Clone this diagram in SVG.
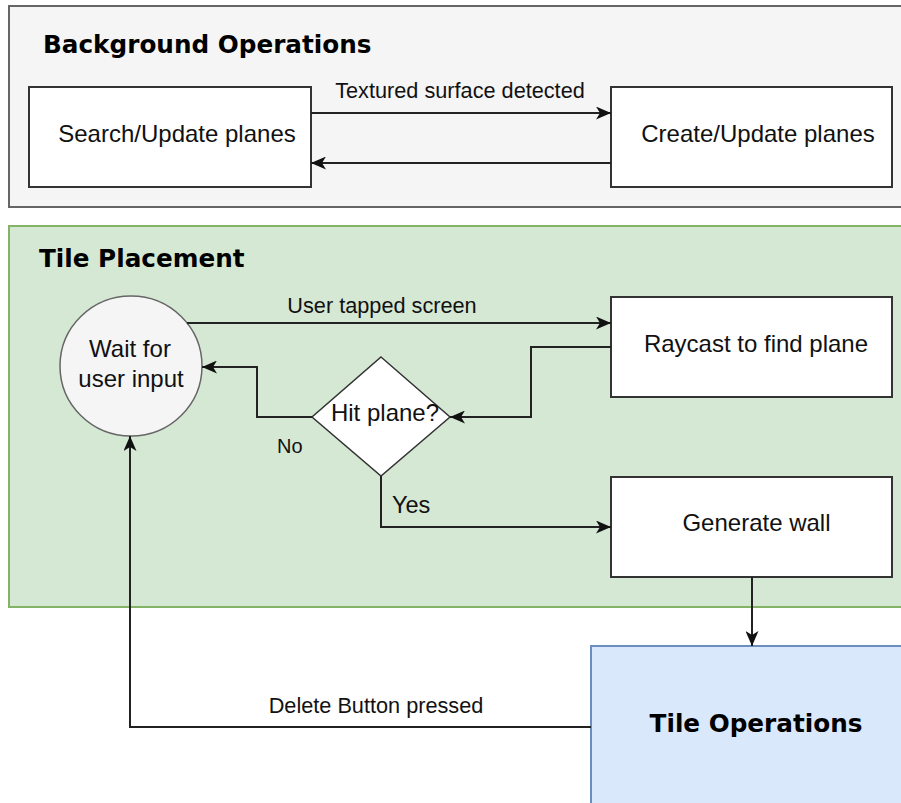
<svg xmlns="http://www.w3.org/2000/svg" width="901" height="803" viewBox="0 0 901 803">
<defs>
<style>
.bg{fill:#ffffff}
.grp-gray{fill:#f5f5f5;stroke:#666666;stroke-width:2}
.grp-green{fill:#d5e8d4;stroke:#82b366;stroke-width:2}
.box{fill:#ffffff;stroke:#333333;stroke-width:2}
.blue{fill:#dae8fc;stroke:#6c8ebf;stroke-width:2}
.circ{fill:#f5f5f5;stroke:#666666;stroke-width:1.5}
.edge{fill:none;stroke:#222222;stroke-width:2}
.title{font-family:"DejaVu Sans",sans-serif;font-weight:bold;font-size:24.7px;fill:#000}
.t{font-family:"Liberation Sans",Arial,sans-serif;font-size:24px;fill:#111;text-anchor:middle}
.lbl{font-family:"Liberation Sans",Arial,sans-serif;font-size:21.7px;fill:#111;text-anchor:middle}
</style>
<marker id="arr" markerUnits="userSpaceOnUse" viewBox="0 0 15 13" refX="15" refY="6.5" markerWidth="15" markerHeight="13" orient="auto">
<path d="M0,0 L15,6.5 L0,13 L4,6.5 Z" fill="#111111"/>
</marker>
</defs>
<rect class="bg" x="0" y="0" width="901" height="803"/>

<g id="background-operations">
<rect class="grp-gray" x="9" y="6" width="920" height="201"/>
<text class="title" x="43" y="53">Background Operations</text>
</g>

<g id="tile-placement">
<rect class="grp-green" x="9" y="226" width="920" height="381"/>
<text class="title" x="39" y="267">Tile Placement</text>
</g>

<g id="search-update">
<rect class="box" x="29" y="87" width="282" height="100"/>
<text class="t" x="177" y="142">Search/Update planes</text>
</g>

<g id="create-update">
<rect class="box" x="611" y="87" width="281" height="100"/>
<text class="t" x="758" y="142">Create/Update planes</text>
</g>

<g id="wait-input">
<ellipse class="circ" cx="131" cy="366" rx="71" ry="70"/>
<text class="t" x="130" y="357">Wait for</text>
<text class="t" x="131" y="387">user input</text>
</g>

<g id="raycast">
<rect class="box" x="611" y="297" width="281" height="100"/>
<text class="t" x="756" y="352">Raycast to find plane</text>
</g>

<g id="hit-plane">
<polygon points="381,357 450,417 381,476 312,417" fill="#ffffff" stroke="#333333" stroke-width="1.5"/>
<text class="t" x="385" y="421">Hit plane?</text>
</g>

<g id="generate-wall">
<rect class="box" x="611" y="477" width="281" height="100"/>
<text class="t" x="756.5" y="531">Generate wall</text>
</g>

<g id="tile-operations">
<rect class="blue" x="591" y="646" width="340" height="200"/>
<text class="title" x="756" y="732" text-anchor="middle">Tile Operations</text>
</g>

<g id="connectors">
<path class="edge" d="M311,113 L611,113" marker-end="url(#arr)"/>
<text class="lbl" x="460" y="98">Textured surface detected</text>
<path class="edge" d="M611,163 L311,163" marker-end="url(#arr)"/>
<path class="edge" d="M187,323 L611,323" marker-end="url(#arr)"/>
<text class="lbl" x="382" y="313">User tapped screen</text>
<path class="edge" d="M611,347 L531,347 L531,417 L450,417" marker-end="url(#arr)"/>
<path class="edge" d="M312,417 L257,417 L257,367 L202,367" marker-end="url(#arr)"/>
<text x="277" y="453" style="font-family:'Liberation Sans',Arial,sans-serif;font-size:20px;fill:#111">No</text>
<path class="edge" d="M381,476 L381,527 L611,527" marker-end="url(#arr)"/>
<text x="392" y="513" style="font-family:'Liberation Sans',Arial,sans-serif;font-size:23.5px;fill:#111">Yes</text>
<path class="edge" d="M752,577 L752,646" marker-end="url(#arr)"/>
<path class="edge" d="M591,727 L130,727 L130,436" marker-end="url(#arr)"/>
<text class="lbl" x="376" y="713">Delete Button pressed</text>
</g>
</svg>
